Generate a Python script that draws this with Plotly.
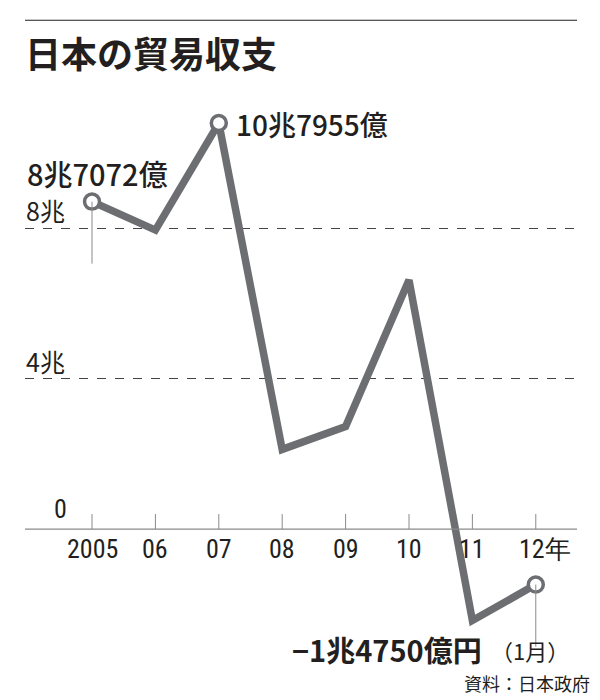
import plotly.graph_objects as go

# 日本の貿易収支 (兆円)
years = ["2005", "06", "07", "08", "09", "10", "11", "12年"]
balance = [8.7072, 7.95, 10.7955, 2.12, 2.73, 6.62, -2.43, -1.475]
marked = [0, 2, 7]  # 白丸を付ける点
grid_vals = [4, 8]
grid_text = ["4兆", "8兆"]

LINE = "#6d6e71"
INK = "#231f20"
CJK = "Noto Sans CJK JP"
NARROW = "Liberation Sans Narrow, Roboto Condensed, Liberation Sans"

xs = list(range(len(years)))

fig = go.Figure()

# 折れ線
fig.add_trace(go.Scatter(
    x=xs, y=balance, mode="lines",
    line=dict(color=LINE, width=7.5), hoverinfo="skip",
))
# 白丸
fig.add_trace(go.Scatter(
    x=[xs[i] for i in marked], y=[balance[i] for i in marked], mode="markers",
    marker=dict(size=15, color="white", line=dict(color=LINE, width=3.5)),
    hoverinfo="skip",
))

# 0の軸線と目盛り
fig.add_shape(type="line", xref="paper", yref="y", x0=0, x1=1, y0=0, y1=0,
              line=dict(color="#8a8a8a", width=1.2))
for i in xs:
    fig.add_shape(type="line", xref="x", yref="y", x0=i, x1=i, y0=0, y1=0.4,
                  line=dict(color="#8a8a8a", width=1))

# 引き出し線
fig.add_shape(type="line", xref="x", yref="y", x0=0, x1=0,
              y0=balance[0], y1=balance[0] - 1.65, line=dict(color="#8a8a8a", width=1))
fig.add_shape(type="line", xref="x", yref="y", x0=7, x1=7,
              y0=balance[7], y1=balance[7] - 1.65, line=dict(color="#8a8a8a", width=1))

# 上の罫線
fig.add_shape(type="line", xref="paper", yref="paper", x0=0, x1=1, y0=1.103, y1=1.103,
              line=dict(color=INK, width=1.2))

ann = []
# 目盛りラベル (年)
for i, t in enumerate(years):
    ann.append(dict(x=i, y=0, xref="x", yref="y", text=t, showarrow=False,
                    yanchor="middle", yshift=-20, xshift=9 if t.endswith("年") else 0,
                    font=dict(family=NARROW, size=26, color=INK)))
# 縦軸ラベル
for v, t in zip(grid_vals, grid_text):
    ann.append(dict(x=0, xref="paper", y=v, yref="y", text=t, showarrow=False,
                    xanchor="left", yanchor="middle", yshift=18, xshift=-1,
                    font=dict(family=CJK, size=25, color=INK)))
ann.append(dict(x=0, xref="paper", y=0, yref="y", text="0", showarrow=False,
                xanchor="left", yanchor="middle", yshift=20, xshift=27,
                font=dict(family=NARROW, size=26, color=INK)))

# 値ラベル
ann.append(dict(x=0, y=balance[0], text="8兆7072億", showarrow=False,
                xanchor="left", yanchor="middle", xshift=-67, yshift=29,
                font=dict(family=CJK, size=29, color=INK, weight=500)))
ann.append(dict(x=2, y=balance[2], text="10兆7955億", showarrow=False,
                xanchor="left", yanchor="middle", xshift=15, yshift=-1,
                font=dict(family=CJK, size=28, color=INK, weight=500)))
ann.append(dict(x=7, y=balance[7], text="<b>−1兆4750億円</b>", showarrow=False,
                xanchor="right", yanchor="middle", xshift=-52, yshift=-64,
                font=dict(family=CJK, size=29, color=INK)))
ann.append(dict(x=7, y=balance[7], text="（1月）", showarrow=False,
                xanchor="left", yanchor="middle", xshift=-47, yshift=-65,
                font=dict(family=CJK, size=22, color=INK)))
ann.append(dict(x=1.027, xref="paper", y=-3.48, yref="y", text="資料：日本政府",
                showarrow=False, xanchor="right", yanchor="middle", yshift=-23,
                font=dict(family=CJK, size=18, color=INK)))

fig.update_layout(
    width=600, height=700,
    margin=dict(l=25, r=23, t=80, b=40),
    plot_bgcolor="white", paper_bgcolor="white",
    showlegend=False,
    title=dict(text="<b>日本の貿易収支</b>", x=25 / 600, xanchor="left",
               y=1 - 55 / 700, yanchor="middle", xref="container", yref="container",
               font=dict(family=CJK, size=36, color=INK)),
    annotations=ann,
    xaxis=dict(range=[-1.057, 7.65], showgrid=False, zeroline=False,
               showticklabels=False, ticks=""),
    yaxis=dict(range=[-3.48, 11.94], tickvals=grid_vals, showticklabels=False,
               showgrid=True, gridcolor="#444444", gridwidth=1, griddash="dash",
               zeroline=False, ticks=""),
)

# ページの余白を消して 600x700 に合わせる
fig.write_html("out.html", config={"displayModeBar": False},
               post_script="document.body.style.margin='0px';")
